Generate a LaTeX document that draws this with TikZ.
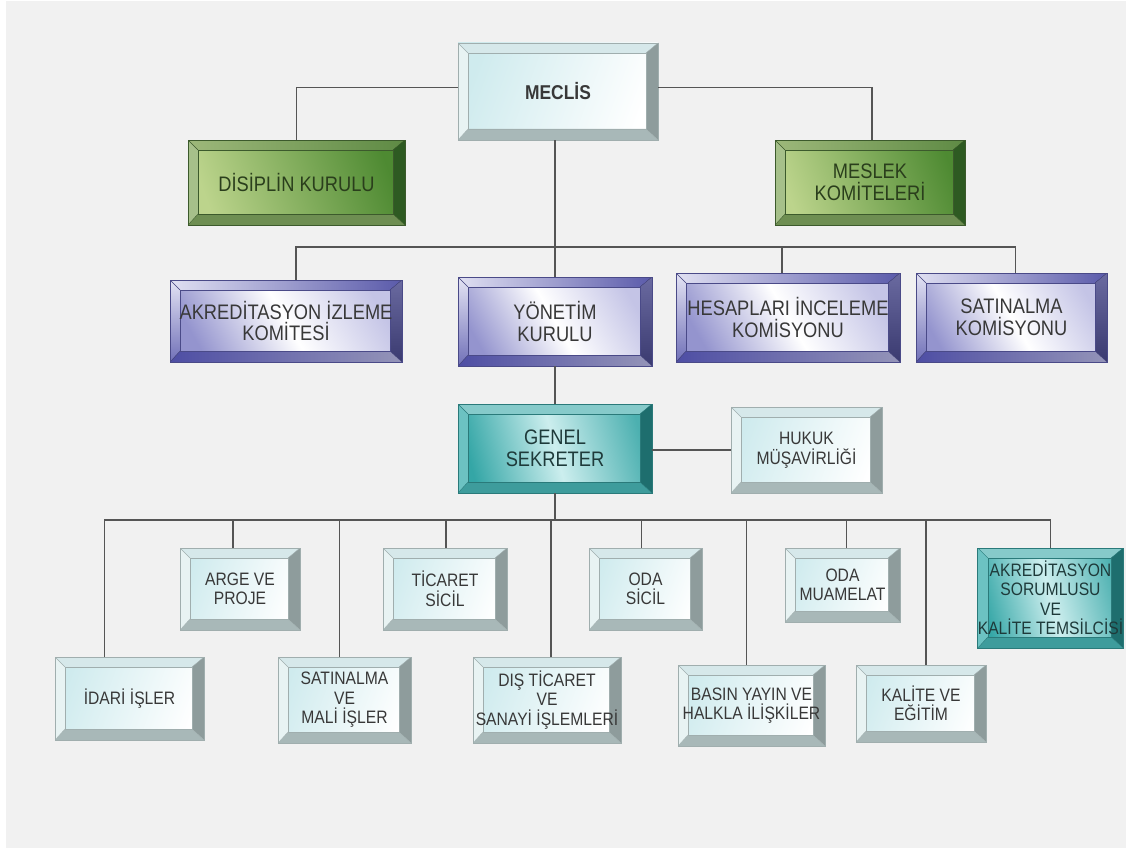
\documentclass[tikz,border=0pt]{standalone}
\usepackage{fontspec}
\setmainfont{Liberation Sans}
\newfontfamily\boxfont[FakeStretch=0.87]{Liberation Sans}
\usetikzlibrary{calc}
\definecolor{bgc}{HTML}{F1F1F1}
\definecolor{linec}{HTML}{555555}
\definecolor{txt}{HTML}{383838}
% cyan family
\definecolor{cyface}{HTML}{CFEBEE}
\definecolor{cytop}{HTML}{D6E8EA}
\definecolor{cyright}{HTML}{8E9C9C}
\definecolor{cybot}{HTML}{A8B8B8}
\definecolor{cyleft}{HTML}{E8F3F3}
\definecolor{cyedge}{HTML}{A0AEAE}
% green family
\definecolor{grfaceA}{HTML}{BCD48C}
\definecolor{grfaceB}{HTML}{4E8A32}
\definecolor{grtopA}{HTML}{9DB87A}
\definecolor{grtopB}{HTML}{5E8A44}
\definecolor{grright}{HTML}{2E5A22}
\definecolor{grbot}{HTML}{6E8E52}
\definecolor{grleft}{HTML}{A6C08A}
\definecolor{gredge}{HTML}{3C5A2C}
\definecolor{grtxt}{HTML}{2A3E1C}
% purple family
\definecolor{puface}{HTML}{9494CE}
\definecolor{puface2}{HTML}{C4C4E6}
\definecolor{putopA}{HTML}{E0E0F2}
\definecolor{putopB}{HTML}{5A5AAA}
\definecolor{purightA}{HTML}{6A6AA0}
\definecolor{purightB}{HTML}{3A3A70}
\definecolor{pubotA}{HTML}{4E4EA4}
\definecolor{pubotB}{HTML}{9494B8}
\definecolor{puleftA}{HTML}{E4E4F4}
\definecolor{puleftB}{HTML}{7070B8}
\definecolor{puedge}{HTML}{4A4A88}
% teal family
\definecolor{teface}{HTML}{34A6A6}
\definecolor{temid}{HTML}{CCEEEE}
\definecolor{teface2}{HTML}{4CB0B0}
\definecolor{tetop}{HTML}{86CACA}
\definecolor{teright}{HTML}{1E6E6E}
\definecolor{tebot}{HTML}{3E9C9C}
\definecolor{teleft}{HTML}{6CC2C2}
\definecolor{teedge}{HTML}{2A7A7A}
\definecolor{tetxt}{HTML}{1E3A3A}

\newlength\bvw
\setlength\bvw{10pt}
\newcommand\bevelfaces[5]{%
  \coordinate (pNW) at (path picture bounding box.north west);
  \coordinate (pNE) at (path picture bounding box.north east);
  \coordinate (pSE) at (path picture bounding box.south east);
  \coordinate (pSW) at (path picture bounding box.south west);
  \coordinate (iNW) at ([shift={(\bvw,-\bvw)}]pNW);
  \coordinate (iNE) at ([shift={(-1.2\bvw,-\bvw)}]pNE);
  \coordinate (iSE) at ([shift={(-1.2\bvw,1.1\bvw)}]pSE);
  \coordinate (iSW) at ([shift={(\bvw,1.1\bvw)}]pSW);
  \fill[#1] (pNW) -- (pNE) -- (iNE) -- (iNW) -- cycle;
  \fill[#2] (pNE) -- (pSE) -- (iSE) -- (iNE) -- cycle;
  \fill[#3] (pSE) -- (pSW) -- (iSW) -- (iSE) -- cycle;
  \fill[#4] (pSW) -- (pNW) -- (iNW) -- (iSW) -- cycle;
  \draw[#5, line width=0.6pt] (iNW) rectangle (iSE);
  \draw[#5, line width=0.4pt] (pNW) -- (iNW) (pNE) -- (iNE) (pSE) -- (iSE) (pSW) -- (iSW);
}
\newcommand\bnode[7]{%
  \node[#1, minimum width=#5pt-#3pt, minimum height=#6pt-#4pt] (#2) at ({(#3+#5)/2},{(#4+#6)/2}) {#7};}

\tikzset{
  bx/.style={rectangle, inner sep=0pt, align=center, line width=0.8pt},
  big/.style={font=\boxfont\fontsize{21}{21.5}\selectfont},
  small/.style={font=\boxfont\fontsize{18}{19.5}\selectfont},
  cyanbox/.style={bx, draw=cyedge, left color=cyface, right color=white, shading angle=70, text=txt,
    path picture={\bevelfaces{fill=cytop}{fill=cyright}{fill=cybot}{fill=cyleft}{cyedge}}},
  greenbox/.style={bx, draw=gredge, left color=grfaceA, right color=grfaceB, shading angle=110, text=grtxt,
    path picture={\bevelfaces{left color=grtopA, right color=grtopB}{fill=grright}{fill=grbot}{fill=grleft}{gredge}}},
  purbox/.style={bx, draw=puedge, left color=puface, right color=puface2, middle color=white, shading angle=120, text=txt,
    path picture={\bevelfaces{left color=putopA, right color=putopB}{top color=purightA, bottom color=purightB}{left color=pubotA, right color=pubotB}{top color=puleftA, bottom color=puleftB}{puedge}}},
  tealbox/.style={bx, draw=teedge, left color=teface, right color=teface2, middle color=temid, shading angle=105, text=tetxt,
    path picture={\bevelfaces{fill=tetop}{fill=teright}{fill=tebot}{fill=teleft}{teedge}}},
  conn/.style={draw=linec, line width=1.3pt}
}

\begin{document}
\begin{tikzpicture}[x=1pt, y=-1pt]
\fill[white] (0,0) rectangle (1126,848);
\fill[bgc] (6,1) rectangle (1126,848);

% top level
\bnode{cyanbox, font=\boxfont\fontsize{20}{21}\selectfont\bfseries}{mec}{458}{43}{658}{140}{MECLİS}
\bnode{greenbox, big}{dis}{188}{140}{405}{225}{DİSİPLİN KURULU}
\bnode{greenbox, big}{mes}{775}{140}{965}{225}{MESLEK\\KOMİTELERİ}
% second row
\bnode{purbox, big}{akiz}{170}{280}{402}{362}{AKREDİTASYON İZLEME\\KOMİTESİ}
\bnode{purbox, big}{yon}{458}{277}{652}{366}{YÖNETİM\\KURULU}
\bnode{purbox, big}{hes}{676}{273}{900}{362}{HESAPLARI İNCELEME\\KOMİSYONU}
\bnode{purbox, big}{satk}{916}{273}{1107}{362}{SATINALMA\\KOMİSYONU}
% secretary
\bnode{tealbox, big}{gen}{458}{404}{652}{493}{GENEL\\SEKRETER}
\bnode{cyanbox, small}{huk}{731}{407}{882}{493}{HUKUK\\MÜŞAVİRLİĞİ}
% departments upper
\bnode{cyanbox, small}{arge}{180}{548}{300}{630}{ARGE VE\\PROJE}
\bnode{cyanbox, small}{tic}{383}{548}{507}{630}{TİCARET\\SİCİL}
\bnode{cyanbox, small}{odas}{589}{548}{702}{630}{ODA\\SİCİL}
\bnode{cyanbox, small}{odam}{785}{548}{900}{622}{ODA\\MUAMELAT}
\bnode{tealbox, small}{akso}{979}{548}{1122}{648}{AKREDİTASYON\\SORUMLUSU\\VE\\KALİTE TEMSİLCİSİ}
% departments lower
\bnode{cyanbox, small}{idari}{55}{657}{204}{740}{İDARİ İŞLER}
\bnode{cyanbox, small}{satm}{278}{657}{411}{743}{SATINALMA\\VE\\MALİ İŞLER}
\bnode{cyanbox, small}{dist}{473}{657}{621}{743}{DIŞ TİCARET\\VE\\SANAYİ İŞLEMLERİ}
\bnode{cyanbox, small}{basin}{678}{665}{825}{746}{BASIN YAYIN VE\\HALKLA İLİŞKİLER}
\bnode{cyanbox, small}{kal}{856}{665}{986}{742}{KALİTE VE\\EĞİTİM}

% connectors
\coordinate (b1) at (555,247);
\coordinate (b2) at (555,520);
\draw[conn] ([yshift=4pt]mec.west) -| (dis.north);
\draw[conn] ([yshift=4pt]mec.east) -| ([xshift=2pt]mes.north);
\draw[conn] (mec.south -| yon.north) -- (yon.north);
\draw[conn] ([xshift=10pt]akiz.north) |- (b1) -| ([xshift=4pt]satk.north);
\draw[conn] ([xshift=-6pt]hes.north) -- ([xshift=-6pt]hes.north |- b1);
\draw[conn] (yon.south) -- (gen.north);
\draw[conn] (gen.east |- huk.west) -- (huk.west);
\draw[conn] (gen.south) -- (b2);
\draw[conn] ([xshift=-25pt]idari.north) |- (b2) -| (akso.north);
\draw[conn] ([xshift=-7pt]arge.north) -- ([xshift=-7pt]arge.north |- b2);
\draw[conn] ([xshift=-5pt]satm.north) -- ([xshift=-5pt]satm.north |- b2);
\draw[conn] ([xshift=1pt]tic.north) -- ([xshift=1pt]tic.north |- b2);
\draw[conn] ([xshift=4pt]dist.north) -- ([xshift=4pt]dist.north |- b2);
\draw[conn] ([xshift=-4pt]odas.north) -- ([xshift=-4pt]odas.north |- b2);
\draw[conn] ([xshift=-5pt]basin.north) -- ([xshift=-5pt]basin.north |- b2);
\draw[conn] ([xshift=4pt]odam.north) -- ([xshift=4pt]odam.north |- b2);
\draw[conn] ([xshift=5pt]kal.north) -- ([xshift=5pt]kal.north |- b2);
\end{tikzpicture}
\end{document}
